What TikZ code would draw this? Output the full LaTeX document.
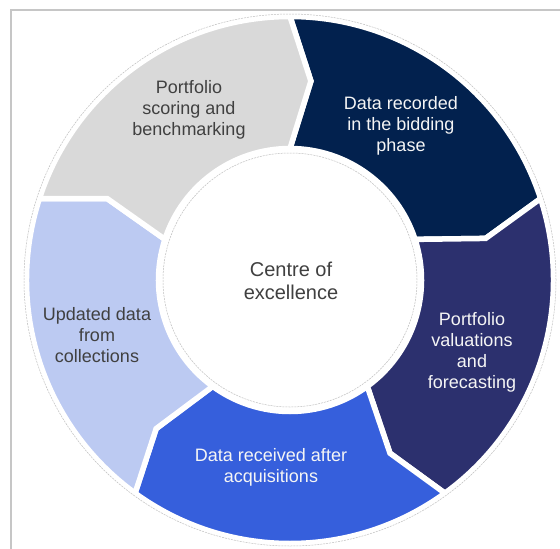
\documentclass[tikz,border=0pt]{standalone}
\usepackage{fontspec}
\setmainfont{Liberation Sans}

\definecolor{segGray}{HTML}{D9D9D9}
\definecolor{segNavy}{HTML}{02214E}
\definecolor{segIndigo}{HTML}{2C306E}
\definecolor{segBlue}{HTML}{365FDC}
\definecolor{segPale}{HTML}{BCCAF2}
\definecolor{labelDark}{HTML}{404040}
\definecolor{frameGray}{HTML}{C6C6C6}

% Ring radii (pt) and chevron tip offset (deg)
\def\Ro{263.5}
\def\Ri{131.5}
\def\Rm{200}
\def\tipoff{6}

% One chevron segment of the ring: #1 = start angle, #2 = colour.
% It runs clockwise over 72 degrees, notched at the start and pointed at the end.
\newcommand\ringseg[2]{%
  \pgfmathsetmacro\segB{#1-72}%
  \pgfmathsetmacro\segBt{#1-72-\tipoff}%
  \pgfmathsetmacro\segAt{#1-\tipoff}%
  \path[segment, fill=#2]
    (#1:\Ro) arc[start angle=#1, end angle=\segB, radius=\Ro]
    -- (\segBt:\Rm) -- (\segB:\Ri)
    arc[start angle=\segB, end angle=#1, radius=\Ri]
    -- (\segAt:\Rm) -- cycle;%
}

\begin{document}
\begin{tikzpicture}[x=1pt,y=1pt,
  segment/.style={draw=white, line width=5.5pt, line join=miter},
  faint/.style={draw=gray!50, line width=0.5pt, dash pattern=on 2pt off 1pt},
  lbl/.style={align=center, inner sep=0pt, font=\fontsize{18}{21}\selectfont},
  lbldark/.style={lbl, text=labelDark},
  lbllight/.style={lbl, text=white!96!black},
  frame/.style={draw=frameGray, line width=2pt}]

\useasboundingbox (0,0) rectangle (560,-549);
\fill[white] (0,0) rectangle (560,-549);

% outer frame (top and left edges)
\coordinate (fTL) at (11,-9.5);
\coordinate (fTR) at (560,-9.5);
\coordinate (fBL) at (11,-549);
\draw[frame] (fTR) -- (fTL) -- (fBL);

% the ring of five chevron segments
\begin{scope}[shift={(290,-280)}]
  \ringseg{90}{segNavy}
  \ringseg{18}{segIndigo}
  \ringseg{-54}{segBlue}
  \ringseg{-126}{segPale}
  \ringseg{162}{segGray}
  \draw[faint] (0,0) circle[radius=266];
  \draw[faint] (0,0) circle[radius=127];
\end{scope}

% labels
\node[lbldark] (score) at (189,-110) {Portfolio\\scoring and\\benchmarking};
\node[lbllight] (bid) at (401,-126) {Data recorded\\in the bidding\\phase};
\node[lbllight] (value) at (472,-352) {Portfolio\\valuations\\and\\forecasting};
\node[lbllight] (acq) at (271,-467) {Data received after\\acquisitions};
\node[lbldark] (coll) at (97,-335) {Updated data\\from\\collections};
\node[lbldark, font=\fontsize{20}{23}\selectfont] (core) at (291,-281) {Centre of\\excellence};
\end{tikzpicture}
\end{document}
